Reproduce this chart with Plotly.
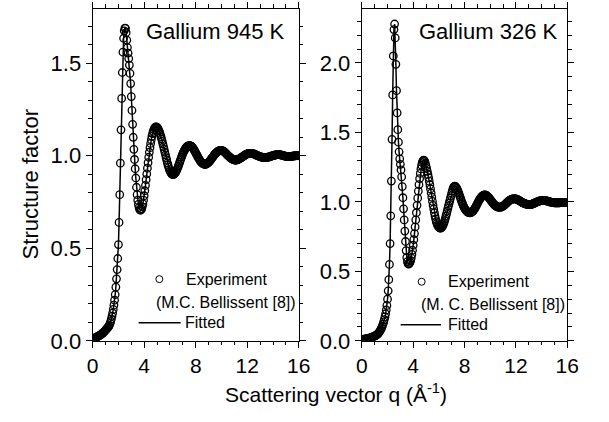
import numpy as np
import plotly.graph_objects as go

# q grid, 0.05 step from 0 to 16
Q = np.round(np.arange(0.0, 16.0001, 0.05), 2)

# Gallium 945 K, q = 0.00 ... 4.95
S945_LOW = [
    0.010, 0.012, 0.014, 0.015, 0.016, 0.018, 0.020, 0.022, 0.024, 0.026,
    0.028, 0.030, 0.032, 0.034, 0.037, 0.040, 0.043, 0.046, 0.050, 0.054,
    0.058, 0.062, 0.066, 0.070, 0.074, 0.078, 0.085, 0.094, 0.105, 0.118,
    0.133, 0.150, 0.170, 0.193, 0.220, 0.250, 0.290, 0.335, 0.385, 0.445,
    0.520, 0.640, 0.790, 0.960, 1.140, 1.310, 1.450, 1.560, 1.635, 1.675,
    1.690, 1.688, 1.665, 1.625, 1.585, 1.555, 1.525, 1.490, 1.445, 1.390,
    1.320, 1.245, 1.170, 1.100, 1.035, 0.980, 0.930, 0.880, 0.830, 0.790,
    0.760, 0.737, 0.720, 0.710, 0.706, 0.707, 0.713, 0.724, 0.740, 0.760,
    0.784, 0.811, 0.840, 0.871, 0.902, 0.933, 0.963, 0.992, 1.019, 1.044,
    1.067, 1.087, 1.105, 1.120, 1.132, 1.142, 1.149, 1.154, 1.156, 1.156,
]
# Gallium 945 K, q = 5.00 ... 16.00 (20 values per unit of q)
S945_HIGH = [
    1.153, 1.149, 1.143, 1.135, 1.126, 1.116, 1.104, 1.091, 1.078, 1.064,
    1.050, 1.035, 1.020, 1.005, 0.990, 0.976, 0.962, 0.949, 0.938, 0.927,
    0.918, 0.911, 0.905, 0.901, 0.899, 0.899, 0.900, 0.903, 0.907, 0.912,
    0.919, 0.927, 0.935, 0.944, 0.954, 0.964, 0.974, 0.984, 0.994, 1.003,
    1.012, 1.020, 1.027, 1.033, 1.039, 1.044, 1.048, 1.051, 1.053, 1.054,
    1.055, 1.055, 1.054, 1.052, 1.049, 1.045, 1.040, 1.035, 1.029, 1.023,
    1.016, 1.009, 1.003, 0.996, 0.990, 0.984, 0.978, 0.973, 0.968, 0.964,
    0.961, 0.958, 0.956, 0.955, 0.954, 0.954, 0.955, 0.957, 0.959, 0.962,
    0.965, 0.969, 0.973, 0.977, 0.982, 0.987, 0.992, 0.996, 1.001, 1.006,
    1.010, 1.014, 1.017, 1.020, 1.023, 1.025, 1.027, 1.028, 1.029, 1.029,
    1.029, 1.028, 1.027, 1.025, 1.022, 1.019, 1.016, 1.013, 1.009, 1.005,
    1.002, 0.998, 0.995, 0.992, 0.989, 0.986, 0.984, 0.982, 0.980, 0.979,
    0.978, 0.977, 0.977, 0.977, 0.978, 0.979, 0.980, 0.982, 0.984, 0.986,
    0.988, 0.990, 0.993, 0.995, 0.998, 1.000, 1.003, 1.005, 1.007, 1.009,
    1.010, 1.011, 1.012, 1.013, 1.013, 1.013, 1.013, 1.013, 1.012, 1.011,
    1.010, 1.009, 1.007, 1.006, 1.004, 1.002, 1.001, 0.999, 0.998, 0.996,
    0.995, 0.994, 0.993, 0.992, 0.991, 0.990, 0.990, 0.990, 0.990, 0.990,
    0.991, 0.991, 0.992, 0.993, 0.994, 0.995, 0.996, 0.998, 0.999, 1.000,
    1.001, 1.002, 1.003, 1.004, 1.005, 1.005, 1.006, 1.006, 1.006, 1.006,
    1.006, 1.005, 1.005, 1.004, 1.003, 1.002, 1.001, 1.000, 0.999, 0.998,
    0.997, 0.997, 0.996, 0.996, 0.996, 0.996, 0.996, 0.996, 0.997, 0.997,
    0.998, 0.998, 0.999, 0.999, 1.000, 1.000, 1.001, 1.001, 1.001, 1.001,
    1.000,
]

# Gallium 326 K, q = 0.00 ... 4.95
S326_LOW = [
    0.010, 0.010, 0.011, 0.012, 0.012, 0.013, 0.014, 0.015, 0.016, 0.017,
    0.018, 0.019, 0.020, 0.021, 0.022, 0.024, 0.026, 0.028, 0.030, 0.032,
    0.034, 0.037, 0.040, 0.043, 0.047, 0.051, 0.056, 0.062, 0.069, 0.077,
    0.086, 0.096, 0.108, 0.121, 0.136, 0.153, 0.172, 0.195, 0.222, 0.255,
    0.300, 0.360, 0.440, 0.550, 0.700, 0.900, 1.150, 1.450, 1.770, 2.050,
    2.240, 2.280, 2.180, 1.990, 1.800, 1.640, 1.520, 1.430, 1.360, 1.310,
    1.270, 1.230, 1.180, 1.110, 1.030, 0.950, 0.870, 0.790, 0.715, 0.650,
    0.600, 0.570, 0.555, 0.552, 0.558, 0.565, 0.578, 0.597, 0.622, 0.652,
    0.688, 0.728, 0.772, 0.820, 0.870, 0.922, 0.975, 1.027, 1.077, 1.124,
    1.167, 1.205, 1.237, 1.263, 1.282, 1.294, 1.300, 1.299, 1.291, 1.277,
]
# Gallium 326 K, q = 5.00 ... 16.00 (20 values per unit of q)
S326_HIGH = [
    1.258, 1.240, 1.220, 1.198, 1.175, 1.149, 1.122, 1.093, 1.064, 1.034,
    1.004, 0.975, 0.948, 0.922, 0.898, 0.877, 0.858, 0.844, 0.832, 0.824,
    0.818, 0.814, 0.812, 0.812, 0.815, 0.820, 0.828, 0.838, 0.850, 0.864,
    0.880, 0.897, 0.915, 0.934, 0.953, 0.972, 0.991, 1.009, 1.027, 1.045,
    1.063, 1.080, 1.095, 1.106, 1.112, 1.113, 1.110, 1.104, 1.097, 1.087,
    1.076, 1.064, 1.050, 1.037, 1.023, 1.010, 0.997, 0.985, 0.974, 0.964,
    0.955, 0.947, 0.940, 0.935, 0.930, 0.927, 0.924, 0.923, 0.922, 0.922,
    0.923, 0.926, 0.929, 0.934, 0.939, 0.946, 0.953, 0.961, 0.970, 0.979,
    0.988, 0.997, 1.006, 1.014, 1.021, 1.028, 1.034, 1.039, 1.043, 1.046,
    1.049, 1.050, 1.050, 1.049, 1.047, 1.044, 1.040, 1.035, 1.030, 1.024,
    1.018, 1.011, 1.005, 0.999, 0.993, 0.987, 0.982, 0.977, 0.973, 0.970,
    0.967, 0.965, 0.963, 0.962, 0.962, 0.962, 0.962, 0.963, 0.965, 0.967,
    0.970, 0.973, 0.977, 0.981, 0.985, 0.990, 0.994, 0.999, 1.003, 1.007,
    1.010, 1.013, 1.016, 1.018, 1.020, 1.021, 1.022, 1.022, 1.022, 1.022,
    1.021, 1.020, 1.018, 1.016, 1.013, 1.011, 1.008, 1.005, 1.002, 0.999,
    0.996, 0.993, 0.991, 0.989, 0.987, 0.985, 0.984, 0.983, 0.982, 0.981,
    0.981, 0.981, 0.981, 0.981, 0.982, 0.983, 0.985, 0.987, 0.989, 0.991,
    0.993, 0.996, 0.998, 1.000, 1.002, 1.004, 1.006, 1.007, 1.008, 1.009,
    1.010, 1.010, 1.010, 1.010, 1.010, 1.009, 1.009, 1.008, 1.007, 1.006,
    1.005, 1.003, 1.002, 1.000, 0.999, 0.998, 0.997, 0.996, 0.995, 0.994,
    0.994, 0.993, 0.993, 0.993, 0.993, 0.993, 0.993, 0.993, 0.994, 0.994,
    0.995, 0.995, 0.996, 0.996, 0.997, 0.997, 0.997, 0.997, 0.996, 0.996,
    0.995,
]

S945 = S945_LOW + S945_HIGH
S326 = S326_LOW + S326_HIGH
assert len(S945) == len(Q) and len(S326) == len(Q)

X_TICKS = [0, 4, 8, 12, 16]
PANELS = [
    dict(name="Gallium 945 K", s=S945, ymax=1.793, xa="x", ya="y",
         ref="(M.C. Bellissent [8])"),
    dict(name="Gallium 326 K", s=S326, ymax=2.388, xa="x2", ya="y2",
         ref="(M. C. Bellissent [8])"),
]

FONT = "Liberation Sans, Arial, sans-serif"
W, H = 609, 422

fig = go.Figure()
for p in PANELS:
    fig.add_trace(go.Scatter(x=Q, y=p["s"], mode="lines", xaxis=p["xa"], yaxis=p["ya"],
                             line=dict(color="black", width=1.5), showlegend=False))
    fig.add_trace(go.Scatter(x=Q, y=p["s"], mode="markers", xaxis=p["xa"], yaxis=p["ya"],
                             marker=dict(symbol="circle-open", size=7.5, color="black",
                                         line=dict(width=1.3)),
                             showlegend=False))

def xaxis(domain, anchor):
    return dict(domain=domain, anchor=anchor, range=[0, 16], tickvals=X_TICKS,
                ticks="outside", ticklen=6, tickwidth=1, tickcolor="black",
                showline=True, linecolor="black", linewidth=1.2, mirror="allticks",
                showgrid=False, zeroline=False,
                minor=dict(dtick=1, ticks="outside", ticklen=3.5, tickwidth=1,
                           tickcolor="black", showgrid=False),
                tickfont=dict(size=21, family=FONT, color="black"))

def yaxis(domain, anchor, ymax):
    return dict(domain=domain, anchor=anchor, range=[0, ymax], dtick=0.5, tick0=0,
                tickformat=".1f",
                ticks="outside", ticklen=6, tickwidth=1, tickcolor="black",
                showline=True, linecolor="black", linewidth=1.2, mirror="allticks",
                showgrid=False, zeroline=False,
                minor=dict(dtick=0.1, ticks="outside", ticklen=3.5, tickwidth=1,
                           tickcolor="black", showgrid=False),
                tickfont=dict(size=22, family=FONT, color="black"))

YDOM = [1 - 351.7 / H, 1 - 9.3 / H]
fig.update_layout(
    width=W, height=H,
    margin=dict(l=0, r=0, t=0, b=0),
    paper_bgcolor="white", plot_bgcolor="white",
    showlegend=False,
    font=dict(family=FONT, color="black", size=22),
    xaxis=xaxis([89.3 / W, 301.7 / W], "y"),
    yaxis=yaxis(YDOM, "x", PANELS[0]["ymax"]),
    xaxis2=xaxis([366.7 / W, 578.3 / W], "y2"),
    yaxis2=yaxis(YDOM, "x2", PANELS[1]["ymax"]),
)

def px(x):
    return x / W

def py(y):
    return 1 - y / H

annotations = [
    dict(text=PANELS[0]["name"], x=px(216), y=py(32), xref="paper", yref="paper",
         showarrow=False, font=dict(size=22, family=FONT), xanchor="center", yanchor="middle"),
    dict(text=PANELS[1]["name"], x=px(497), y=py(33), xref="paper", yref="paper",
         showarrow=False, font=dict(size=22, family=FONT), xanchor="center", yanchor="middle"),
    dict(text="Structure factor", x=px(25), y=py(190), xref="paper", yref="paper",
         showarrow=False, textangle=-90, font=dict(size=22, family=FONT),
         xanchor="center", yanchor="middle"),
    dict(text="Scattering vector q (Å<sup>-1</sup>)", x=px(340), y=py(421),
         xref="paper", yref="paper", showarrow=False, font=dict(size=21, family=FONT),
         xanchor="center", yanchor="bottom"),
]
shapes = []
LEG = [
    dict(cx=158, cy=288, tx=183, rx=152, ry=312, lx0=136.7, lx1=180, ly=333, fx=182.7),
    dict(cx=428.3, cy=290.7, tx=453.3, rx=426, ry=314, lx0=406.7, lx1=448.3, ly=335, fx=453.3),
]
for p, L in zip(PANELS, LEG):
    annotations.append(dict(text="Experiment", x=px(L["tx"]), y=py(L["cy"]), xref="paper",
                            yref="paper", showarrow=False, font=dict(size=16, family=FONT),
                            xanchor="left", yanchor="middle"))
    annotations.append(dict(text=p["ref"], x=px(L["rx"]), y=py(L["ry"]), xref="paper",
                            yref="paper", showarrow=False, font=dict(size=16, family=FONT),
                            xanchor="left", yanchor="middle"))
    annotations.append(dict(text="Fitted", x=px(L["fx"]), y=py(L["ly"]), xref="paper",
                            yref="paper", showarrow=False, font=dict(size=16, family=FONT),
                            xanchor="left", yanchor="middle"))
    shapes.append(dict(type="circle", xref="paper", yref="paper", xsizemode="pixel",
                       ysizemode="pixel", xanchor=px(L["cx"]), yanchor=py(L["cy"]),
                       x0=-3.5, x1=3.5, y0=-3.5, y1=3.5, line=dict(color="black", width=1)))
    shapes.append(dict(type="line", xref="paper", yref="paper", x0=px(L["lx0"]),
                       x1=px(L["lx1"]), y0=py(L["ly"]), y1=py(L["ly"]),
                       line=dict(color="black", width=1.5)))

fig.update_layout(annotations=annotations, shapes=shapes)
fig.write_html("out.html")
